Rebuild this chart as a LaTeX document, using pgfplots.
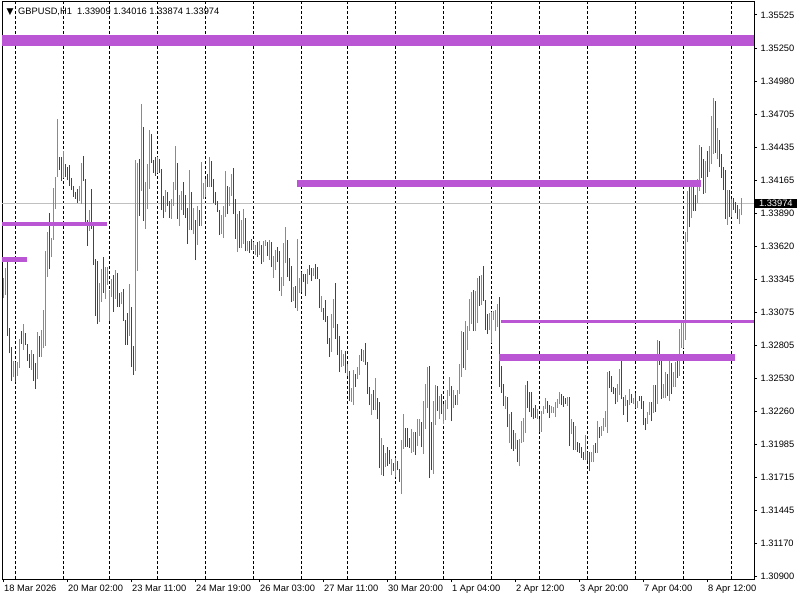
\documentclass[border=0pt]{standalone}
\usepackage{fontspec}
\setmainfont{Liberation Sans}
\newfontfamily\dejavu{DejaVu Sans}
\usepackage{pgfplots}
\usepackage{pgfplotstable}
\pgfplotsset{compat=1.18}

\definecolor{upc}{RGB}{64,190,64}
\definecolor{dnc}{RGB}{226,0,0}
\definecolor{lvl}{RGB}{186,85,211}
\definecolor{bidc}{RGB}{192,192,192}

% GBPUSD H1 bars: index, high, low
\pgfplotstableread{
k hi lo
0 1.33355 1.33190
1 1.33437 1.33218
5 1.32676 1.32545
7 1.32668 1.32553
8 1.32855 1.32619
10 1.32979 1.32764
14 1.32764 1.32600
17 1.32915 1.32523
19 1.32929 1.32709
20 1.33094 1.32778
21 1.33580 1.32800
22 1.33737 1.33369
24 1.33685 1.33528
25 1.34099 1.33671
26 1.34187 1.33926
27 1.34668 1.34187
30 1.34404 1.34179
38 1.34116 1.33990
39 1.34308 1.33968
43 1.33915 1.33748
48 1.33319 1.32998
49 1.33432 1.33160
51 1.33448 1.33185
52 1.33448 1.33300
53 1.33259 1.33003
54 1.33350 1.33204
56 1.33424 1.33185
59 1.33245 1.33141
63 1.33308 1.32880
66 1.34330 1.32594
67 1.34305 1.33418
69 1.34792 1.34077
71 1.34149 1.33764
72 1.34297 1.33926
73 1.34577 1.34094
77 1.34355 1.34226
81 1.34083 1.33899
84 1.34009 1.33844
85 1.34149 1.33954
86 1.34445 1.34083
88 1.34042 1.33786
89 1.34075 1.33918
93 1.34248 1.33753
95 1.33935 1.33720
97 1.33951 1.33630
99 1.34314 1.33786
100 1.34141 1.34009
101 1.34174 1.34025
103 1.34355 1.34108
109 1.33877 1.33720
110 1.33951 1.33687
111 1.34240 1.33860
113 1.34108 1.33951
114 1.34215 1.34033
117 1.33885 1.33572
119 1.33836 1.33605
120 1.33926 1.33638
122 1.33663 1.33580
125 1.33654 1.33588
126 1.33630 1.33547
128 1.33663 1.33547
130 1.33663 1.33490
131 1.33671 1.33621
133 1.33671 1.33506
135 1.33539 1.33358
136 1.33588 1.33424
139 1.33366 1.33209
140 1.33646 1.33292
141 1.33778 1.33481
145 1.33284 1.33168
147 1.33679 1.33089
148 1.33358 1.33234
152 1.33432 1.33308
155 1.33440 1.33374
159 1.33209 1.33077
164 1.33061 1.32748
165 1.33185 1.32946
169 1.32764 1.32624
170 1.32731 1.32633
172 1.32649 1.32550
174 1.32451 1.32336
175 1.32600 1.32311
177 1.32624 1.32525
178 1.32723 1.32558
180 1.32764 1.32665
184 1.32402 1.32229
186 1.32534 1.32270
189 1.32039 1.31734
191 1.31916 1.31800
194 1.31866 1.31734
196 1.31874 1.31718
199 1.32023 1.31578
200 1.32237 1.31949
204 1.32113 1.31916
205 1.32089 1.31924
207 1.32196 1.31973
208 1.32196 1.32056
210 1.32344 1.31907
211 1.32484 1.32113
212 1.32624 1.32286
215 1.32344 1.31743
216 1.32476 1.32146
218 1.32385 1.32196
220 1.32319 1.32155
221 1.32352 1.32188
222 1.32435 1.32278
223 1.32542 1.32385
225 1.32435 1.32286
227 1.32435 1.32311
228 1.32649 1.32402
229 1.32921 1.32542
231 1.33003 1.32600
232 1.32962 1.32764
233 1.33185 1.32921
234 1.33242 1.32979
236 1.33251 1.32921
237 1.33358 1.32987
239 1.33382 1.33135
243 1.33069 1.32929
244 1.33077 1.32822
245 1.33086 1.33012
246 1.33094 1.32921
247 1.33143 1.32954
251 1.32385 1.32278
253 1.32237 1.31998
256 1.32080 1.31949
258 1.32031 1.31808
259 1.32179 1.31998
260 1.32204 1.32006
261 1.32476 1.32080
267 1.32278 1.32196
269 1.32262 1.32089
270 1.32303 1.32237
271 1.32369 1.32278
274 1.32303 1.32245
275 1.32295 1.32245
276 1.32336 1.32212
277 1.32360 1.32286
278 1.32418 1.32319
282 1.32377 1.32303
284 1.32196 1.32072
286 1.32138 1.31940
291 1.32064 1.31858
294 1.31924 1.31841
295 1.31981 1.31841
297 1.32179 1.31916
299 1.32138 1.32056
300 1.32204 1.32097
301 1.32262 1.32130
302 1.32583 1.32080
307 1.32484 1.32336
308 1.32608 1.32394
311 1.32394 1.32303
313 1.32443 1.32311
315 1.32369 1.32319
317 1.32344 1.32286
322 1.32253 1.32155
323 1.32336 1.32229
325 1.32476 1.32245
327 1.32847 1.32319
330 1.32484 1.32369
331 1.32583 1.32369
333 1.32674 1.32344
335 1.32583 1.32459
336 1.32665 1.32459
338 1.32937 1.32550
339 1.32995 1.32781
340 1.33012 1.32781
341 1.33737 1.32847
342 1.34075 1.33654
344 1.34149 1.33852
347 1.34174 1.33976
348 1.34454 1.34075
351 1.34322 1.34058
353 1.34445 1.34231
354 1.34693 1.34297
355 1.34841 1.34380
357 1.34594 1.34338
362 1.34083 1.33795
364 1.34009 1.33860
368 1.33926 1.33803
369 1.34016 1.33874
}\upbars

\pgfplotstableread{
k hi lo
2 1.33498 1.32882
3 1.32943 1.32737
4 1.32792 1.32512
6 1.32668 1.32501
9 1.32921 1.32814
11 1.32902 1.32808
12 1.32814 1.32676
13 1.32731 1.32619
15 1.32731 1.32512
16 1.32654 1.32446
18 1.32880 1.32709
23 1.33893 1.33432
28 1.34355 1.34248
29 1.34355 1.34160
31 1.34297 1.34193
32 1.34272 1.34165
33 1.34289 1.34119
34 1.34182 1.34083
35 1.34116 1.34028
36 1.34066 1.34009
37 1.34094 1.33979
40 1.34366 1.34160
41 1.34174 1.33795
42 1.33836 1.33624
44 1.34094 1.33764
45 1.33819 1.33468
46 1.33514 1.33045
47 1.33498 1.32981
50 1.33531 1.33237
55 1.33382 1.33080
57 1.33402 1.33121
58 1.33237 1.33121
60 1.33267 1.33006
61 1.33012 1.32808
62 1.33072 1.32808
64 1.33119 1.32627
65 1.32797 1.32561
68 1.34338 1.33871
70 1.34602 1.33830
74 1.34547 1.34308
75 1.34333 1.34226
76 1.34355 1.34201
78 1.34338 1.34226
79 1.34256 1.33918
80 1.34033 1.33852
82 1.34066 1.33954
83 1.33992 1.33852
87 1.34305 1.33844
90 1.34149 1.33877
91 1.34042 1.33852
92 1.33935 1.33638
94 1.34066 1.33753
96 1.33836 1.33506
98 1.33918 1.33786
102 1.34215 1.34108
104 1.34322 1.34108
105 1.34174 1.33976
106 1.34066 1.33959
107 1.33992 1.33902
108 1.33918 1.33712
112 1.34116 1.33885
115 1.34264 1.33885
116 1.34009 1.33679
118 1.33910 1.33605
121 1.33852 1.33580
123 1.33663 1.33564
124 1.33679 1.33588
127 1.33654 1.33534
129 1.33630 1.33473
132 1.33654 1.33539
134 1.33654 1.33448
137 1.33613 1.33490
138 1.33580 1.33251
142 1.33671 1.33366
143 1.33523 1.33333
144 1.33457 1.33160
146 1.33292 1.33110
149 1.33407 1.33242
150 1.33391 1.33325
151 1.33391 1.33209
153 1.33465 1.33382
154 1.33440 1.33333
156 1.33473 1.33350
157 1.33448 1.33350
158 1.33350 1.33110
160 1.33110 1.33012
161 1.33176 1.32998
162 1.33045 1.32814
163 1.32863 1.32707
166 1.33317 1.32855
167 1.32979 1.32723
168 1.32880 1.32583
171 1.32756 1.32575
173 1.32591 1.32344
176 1.32567 1.32459
179 1.32773 1.32674
181 1.32822 1.32641
182 1.32665 1.32402
183 1.32459 1.32311
185 1.32435 1.32270
187 1.32369 1.32196
188 1.32336 1.31792
190 1.31981 1.31726
192 1.31965 1.31808
193 1.31940 1.31825
195 1.31833 1.31767
197 1.31850 1.31775
198 1.31784 1.31677
201 1.32122 1.31965
202 1.32122 1.31965
203 1.32039 1.31957
206 1.32089 1.31899
209 1.32171 1.31965
213 1.32633 1.31709
214 1.32171 1.31775
217 1.32468 1.32262
219 1.32402 1.32237
224 1.32468 1.32179
226 1.32394 1.32311
230 1.32913 1.32616
235 1.33259 1.32921
238 1.33374 1.33127
240 1.33457 1.33168
241 1.33176 1.32929
242 1.33061 1.32896
248 1.33201 1.32459
249 1.32633 1.32410
250 1.32484 1.32303
252 1.32377 1.32130
254 1.32253 1.31949
255 1.32105 1.31932
257 1.32023 1.31841
262 1.32509 1.32286
263 1.32418 1.32253
264 1.32418 1.32212
265 1.32286 1.32196
266 1.32311 1.32204
268 1.32196 1.32089
272 1.32344 1.32245
273 1.32311 1.32204
279 1.32402 1.32311
280 1.32385 1.32295
281 1.32369 1.32319
283 1.32377 1.31973
285 1.32171 1.31940
287 1.32006 1.31924
288 1.31998 1.31916
289 1.31965 1.31874
290 1.31924 1.31858
292 1.31924 1.31850
293 1.31924 1.31767
296 1.31998 1.31916
298 1.32130 1.32039
303 1.32591 1.32451
304 1.32550 1.32418
305 1.32459 1.32402
306 1.32451 1.32319
309 1.32682 1.32360
310 1.32377 1.32229
312 1.32352 1.32171
314 1.32402 1.32328
316 1.32410 1.32286
318 1.32385 1.32344
319 1.32385 1.32278
320 1.32344 1.32146
321 1.32204 1.32105
324 1.32336 1.32179
326 1.32476 1.32253
328 1.32839 1.32641
329 1.32682 1.32360
332 1.32567 1.32385
334 1.32657 1.32402
337 1.32698 1.32534
343 1.34116 1.33778
345 1.34124 1.33910
346 1.34042 1.33910
349 1.34437 1.34182
350 1.34338 1.34050
352 1.34404 1.34190
356 1.34816 1.34388
358 1.34495 1.34272
359 1.34380 1.34182
360 1.34272 1.34083
361 1.34248 1.33844
363 1.34083 1.33860
365 1.34017 1.33918
366 1.33984 1.33893
367 1.33959 1.33844
}\dnbars

\begin{document}
\begin{tikzpicture}
\useasboundingbox (-2pt,-21pt) rectangle (798pt,579pt);
\begin{axis}[
    scale only axis,
    width=752pt, height=577pt,
    xmin=-0.5, xmax=375.5,
    ymin=1.308776, ymax=1.356321,
    axis line style={black, line width=1pt},
    tick style={black, line width=1pt},
    tick align=outside,
    major tick length=3pt,
    xtick pos=bottom, ytick pos=right,
    yticklabel pos=right,
    ticklabel style={font=\fontsize{9.3}{10}\selectfont, inner sep=0pt},
    xtick={0,32,64,96,128,160,192,224,256,288,320,352},
    xticklabels={18 Mar 2026, 20 Mar 02:00, 23 Mar 11:00, 24 Mar 19:00,
      26 Mar 03:00, 27 Mar 11:00, 30 Mar 20:00, 1 Apr 04:00,
      2 Apr 12:00, 3 Apr 20:00, 7 Apr 04:00, 8 Apr 12:00},
    xticklabel style={anchor=north west, xshift=1pt, yshift=-3pt},
    ytick={1.30900,1.31170,1.31445,1.31715,1.31985,1.32260,1.32530,1.32805,
      1.33075,1.33345,1.33620,1.33890,1.34165,1.34435,1.34705,1.34980,1.35250,1.35525},
    yticklabels={1.30900,1.31170,1.31445,1.31715,1.31985,1.32260,1.32530,1.32805,
      1.33075,1.33345,1.33620,1.33890,1.34165,1.34435,1.34705,1.34980,1.35250,1.35525},
    yticklabel style={anchor=west, xshift=3.5pt},
    extra x ticks={6,30,53,77,101,125,149,172,196,220,244,268,292,316,340,364},
    extra x tick labels={},
    extra x tick style={xmajorgrids=true, tick style={draw=none}},
    major grid style={black, line width=1pt, dash pattern=on 3pt off 2pt},
]
% bid line
\addplot[bidc, line width=1pt, forget plot] coordinates {(-0.5,1.33974)(375.5,1.33974)};

% bars
\addplot[draw=none, mark=none, forget plot,
    error bars/.cd, y dir=plus, y explicit, error mark=none,
    error bar style={draw=upc, line width=1pt}]
    table[x=k, y=lo, y error plus expr=\thisrow{hi}-\thisrow{lo}] {\upbars};
\addplot[draw=none, mark=none, forget plot,
    error bars/.cd, y dir=plus, y explicit, error mark=none,
    error bar style={draw=dnc, line width=1pt}]
    table[x=k, y=lo, y error plus expr=\thisrow{hi}-\thisrow{lo}] {\dnbars};

% horizontal levels
\addplot[lvl, line width=10.7pt] coordinates {(-0.5,1.35317)(375.5,1.35317)};
\addplot[lvl, line width=7pt] coordinates {(147,1.34137)(348.85,1.34137)};
\addplot[lvl, line width=4pt] coordinates {(-0.5,1.33803)(52,1.33803)};
\addplot[lvl, line width=4.7pt] coordinates {(-0.5,1.33512)(11.85,1.33512)};
\addplot[lvl, line width=3pt] coordinates {(249,1.33001)(375.5,1.33001)};
\addplot[lvl, line width=6.7pt] coordinates {(248.15,1.32704)(366,1.32704)};

% header
\node[anchor=west, inner sep=0pt, xshift=4.5pt, yshift=-10pt,
    font=\dejavu\fontsize{9}{9}\selectfont] at (rel axis cs:0,1) {▼};
\node[anchor=west, inner sep=0pt, xshift=16pt, yshift=-10pt,
    font=\fontsize{9.3}{10}\selectfont] at (rel axis cs:0,1)
    {GBPUSD,H1\ \ 1.33909 1.34016 1.33874 1.33974};
\end{axis}
% bid price tag
\node[anchor=west, fill=black, text=white, inner xsep=0pt, inner ysep=1.5pt,
    minimum width=42.3pt, font=\fontsize{9.3}{10}\selectfont]
    at (752.5pt,{(1.33974-1.308776)/(1.356321-1.308776)*577pt}) {1.33974};
\end{tikzpicture}
\end{document}
